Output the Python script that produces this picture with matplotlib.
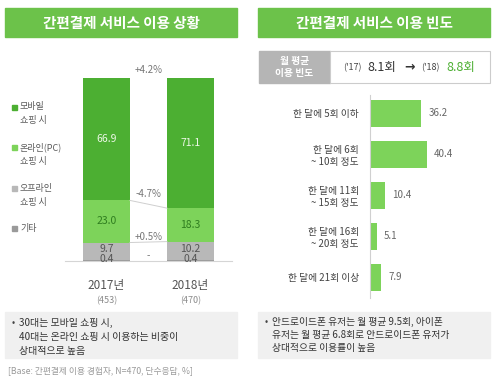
import matplotlib
matplotlib.use('Agg')
import matplotlib.pyplot as plt
from matplotlib.patches import Rectangle
import numpy as np

plt.rcParams['font.family'] = ['Noto Sans CJK KR', 'DejaVu Sans']

# left chart data
years = ['2017년', '2018년']
samples = ['(453)', '(470)']
mobile = [66.9, 71.1]
online = [23.0, 18.3]
offline = [9.7, 10.2]
other = [0.4, 0.4]
changes = ['+4.2%', '-4.7%', '+0.5%', '-']
legend_items = [('모바일', '쇼핑 시'), ('온라인(PC)', '쇼핑 시'), ('오프라인', '쇼핑 시'), ('기타', '')]

# right chart data
freq_labels = ['한 달에 5회 이하', '한 달에 6회\n~ 10회 정도', '한 달에 11회\n~ 15회 정도',
               '한 달에 16회\n~ 20회 정도', '한 달에 21회 이상']
freq_values = [36.2, 40.4, 10.4, 5.1, 7.9]

banner = '#6cc24a'
c_mobile = '#4caf32'
c_online = '#7dd35a'
c_offline = '#b8b8b8'
c_other = '#9a9a9a'
txt = '#444444'

fig = plt.figure(figsize=(5, 3.8), dpi=100)

# overlay in pixel coords for boxes and free text
ax0 = fig.add_axes([0, 0, 1, 1])
ax0.set_xlim(0, 500)
ax0.set_ylim(380, 0)
ax0.axis('off')

for x0, title in [(5, '간편결제 서비스 이용 상황'), (258, '간편결제 서비스 이용 빈도')]:
    ax0.add_patch(Rectangle((x0, 8), 232, 29, color=banner))
    ax0.text(x0 + 116, 23, title, color='white', fontsize=10.5, fontweight='bold',
             ha='center', va='center')

# monthly average box
ax0.add_patch(Rectangle((259, 51), 71, 32, color='#b5b5b5'))
ax0.add_patch(Rectangle((330, 51), 160, 32, facecolor='white', edgecolor='#cccccc', lw=0.8))
ax0.text(294.5, 67, '월 평균\n이용 빈도', color='white', fontsize=7, fontweight='bold',
         ha='center', va='center', linespacing=1.2)
ax0.text(343, 68, "('17)", color=txt, fontsize=6.5, va='center')
ax0.text(367, 67, '8.1회', color='#333333', fontsize=9, va='center')
ax0.text(404, 67, '→', color='#333333', fontsize=9, fontweight='bold', va='center',
         family=['DejaVu Sans'])
ax0.text(421, 68, "('18)", color=txt, fontsize=6.5, va='center')
ax0.text(446, 67, '8.8회', color='#4caf32', fontsize=9, va='center')

# note boxes
ax0.add_patch(Rectangle((5, 312), 232, 46, color='#f0f0f0'))
ax0.add_patch(Rectangle((258, 312), 232, 46, color='#f0f0f0'))
left_note = ['30대는 모바일 쇼핑 시,', '40대는 온라인 쇼핑 시 이용하는 비중이', '상대적으로 높음']
right_note = ['안드로이드폰 유저는 월 평균 9.5회, 아이폰', '유저는 월 평균 6.8회로 안드로이드폰 유저가',
              '상대적으로 이용률이 높음']
ax0.text(12, 323, '•', color=txt, fontsize=7, va='center')
for i, line in enumerate(left_note):
    ax0.text(19, 323 + i * 14, line, color='#333333', fontsize=7.2, va='center')
ax0.text(265, 322, '•', color=txt, fontsize=7, va='center')
for i, line in enumerate(right_note):
    ax0.text(272, 322 + i * 13, line, color='#333333', fontsize=7, va='center')
ax0.text(8, 371, '[Base: 간편결제 이용 경험자, N=470, 단수응답, %]', color='#9a9a9a',
         fontsize=6.3, va='center')

# legend for stacked bars
leg_colors = [c_mobile, c_online, c_offline, c_other]
for i, ((l1, l2), c) in enumerate(zip(legend_items, leg_colors)):
    y = 107 + i * 40.5
    ax0.add_patch(Rectangle((12, y - 2.5), 5, 5, color=c))
    ax0.text(20, y, l1, color='#5a5a5a', fontsize=6.5, va='center')
    if l2:
        ax0.text(20, y + 14, l2, color='#5a5a5a', fontsize=6.5, va='center')

# left stacked bar chart
ax1 = fig.add_axes([65 / 500, 119 / 380, 167 / 500, 183 / 380])
ax1.set_facecolor('none')
x = np.arange(len(years))
w = 0.56
b1 = np.array(other)
b2 = b1 + np.array(offline)
b3 = b2 + np.array(online)
ax1.bar(x, other, w, color=c_other)
ax1.bar(x, offline, w, bottom=b1, color=c_offline)
ax1.bar(x, online, w, bottom=b2, color=c_online)
ax1.bar(x, mobile, w, bottom=b3, color=c_mobile)
ax1.set_xlim(-0.494, 1.494)
ax1.set_ylim(0, 100)
for s in ['top', 'left', 'right']:
    ax1.spines[s].set_visible(False)
ax1.spines['bottom'].set_color('#d5d5d5')
ax1.set_xticks([])
ax1.set_yticks([])

for i in x:
    ax1.text(i, b3[i] + mobile[i] / 2, f'{mobile[i]:.1f}', color='#eef8e8', fontsize=7.5,
             ha='center', va='center')
    ax1.text(i, b2[i] + online[i] / 2, f'{online[i]:.1f}', color='#2f7d1f', fontsize=7.5,
             ha='center', va='center')
    ax1.text(i, 6.5, f'{offline[i]:.1f}', color='#555555', fontsize=7.5, ha='center', va='center')
    ax1.text(i, 1.1, f'{other[i]:.1f}', color='#555555', fontsize=7.5, ha='center', va='center')
    ax1.annotate(years[i], (i, 0), xytext=(0, -17.5), textcoords='offset points',
                 ha='center', va='center', color='#555555', fontsize=8.5, annotation_clip=False)
    ax1.annotate(samples[i], (i, 0), xytext=(0, -28.5), textcoords='offset points',
                 ha='center', va='center', color='#8a8a8a', fontsize=6.5, style='italic',
                 annotation_clip=False)

# connector lines between bars
for lvl in [b3, b2]:
    ax1.plot([w / 2, 1 - w / 2], [lvl[0], lvl[1]], color='#cfcfcf', lw=0.7)

change_y = [104.2, 36.6, 13.1, 2.7]
for label, cy in zip(changes, change_y):
    ax1.text(0.5, cy, label, color='#777777', fontsize=7, ha='center', va='center', clip_on=False)

# right horizontal bar chart
ax2 = fig.add_axes([370 / 500, 82 / 380, 119 / 500, 203 / 380])
ax2.set_facecolor('none')
y = np.arange(len(freq_labels))
ax2.barh(y, freq_values, 0.66, color=c_online)
ax2.set_xlim(0, 84)
ax2.set_ylim(4.51, -0.45)
for s in ['top', 'bottom', 'right']:
    ax2.spines[s].set_visible(False)
ax2.spines['left'].set_color('#d0d0d0')
ax2.set_xticks([])
ax2.set_yticks(y)
ax2.set_yticklabels(freq_labels, fontsize=7, color=txt, multialignment='right')
ax2.tick_params(axis='y', length=0, pad=8)
for yi, v in zip(y, freq_values):
    ax2.annotate(f'{v:.1f}', (v, yi), xytext=(5, 0), textcoords='offset points',
                 ha='left', va='center', color='#666666', fontsize=7)

fig.savefig('out.png', dpi=100)
